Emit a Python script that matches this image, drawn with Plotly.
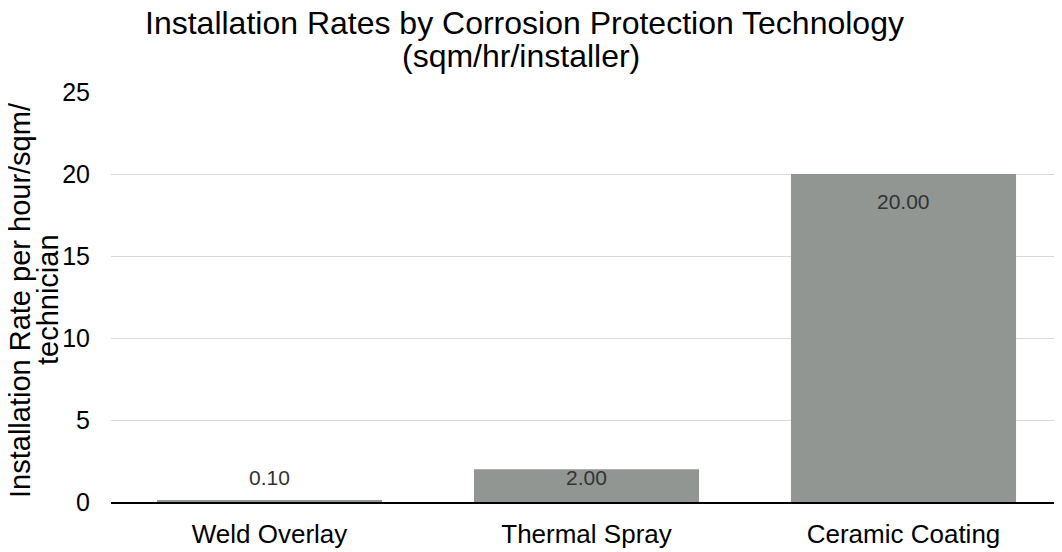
import plotly.graph_objects as go

categories = ["Weld Overlay", "Thermal Spray", "Ceramic Coating"]
rates = [0.10, 2.00, 20.00]
y_ticks = [0, 5, 10, 15, 20, 25]
title_lines = ["Installation Rates by Corrosion Protection Technology", "(sqm/hr/installer)"]
ytitle_lines = ["Installation Rate per hour/sqm/", "technician"]

FONT = "Liberation Sans, Arial, Helvetica, sans-serif"
BAR_COLOR = "#919693"

fig = go.Figure()
fig.add_trace(go.Bar(
    x=categories,
    y=rates,
    marker=dict(color=BAR_COLOR, line=dict(width=0)),
    width=0.71,
    hoverinfo="x+y",
    showlegend=False,
))

# data labels: near the top of tall bars, at a minimum height for short ones
for c, v in zip(categories, rates):
    fig.add_annotation(
        x=c, y=max(v - 1.7, 1.5), xref="x", yref="y",
        text=f"{v:.2f}", showarrow=False,
        font=dict(family=FONT, size=21, color="#333333"),
        xanchor="center", yanchor="middle",
    )

# chart title (two tightly spaced lines)
for txt, xp, yp in zip(title_lines, [0.4348, 0.4311], [1.168, 1.087]):
    fig.add_annotation(
        x=xp, y=yp, xref="paper", yref="paper", text=txt, showarrow=False,
        font=dict(family=FONT, size=32, color="#000000"),
        xanchor="center", yanchor="middle",
    )

# y-axis title (overlapping tick labels as in the reference)
for txt, xp in zip(ytitle_lines, [-0.0957, -0.0662]):
    fig.add_annotation(
        x=xp, y=0.4927, xref="paper", yref="paper", text=txt,
        textangle=-90, showarrow=False,
        font=dict(family=FONT, size=29, color="#000000"),
        xanchor="center", yanchor="middle",
    )

fig.update_layout(
    width=1054, height=544,
    margin=dict(l=103, r=0, t=84, b=50),
    paper_bgcolor="white", plot_bgcolor="white",
    font=dict(family=FONT, color="#000000"),
    bargap=0.29,
)

fig.update_xaxes(
    showline=True, linecolor="#000000", linewidth=2,
    showgrid=False, ticks="", ticklabelstandoff=8,
    tickfont=dict(family=FONT, size=26, color="#000000"),
)
fig.update_yaxes(
    range=[0, 25], tickvals=y_ticks, ticktext=[str(t) for t in y_ticks],
    showgrid=True, gridcolor="#d9d9d9", gridwidth=1,
    zeroline=False, showline=False, ticks="", ticklabelstandoff=20,
    tickfont=dict(family=FONT, size=25, color="#000000"),
)

fig.write_html("out.html")
